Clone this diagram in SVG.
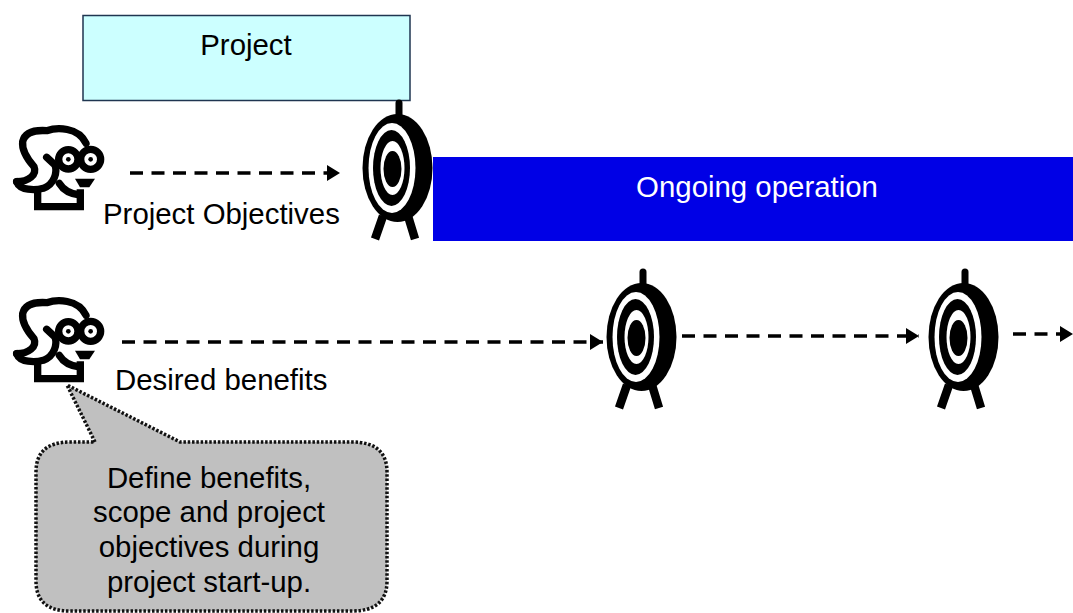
<svg xmlns="http://www.w3.org/2000/svg" width="1073" height="613" viewBox="0 0 1073 613">
<style>
text{font-family:"Liberation Sans",Arial,sans-serif;font-size:29.4px;fill:#000}
.m{text-anchor:middle}
.dash{fill:none;stroke:#000;stroke-width:3.500;stroke-dasharray:13 8.500}
.bl{fill:#000}.wh{fill:#fff}
.ln{fill:none;stroke:#000;stroke-width:22;stroke-linecap:round;stroke-linejoin:round}
</style>
<defs>
<marker id="arrow" markerUnits="userSpaceOnUse" markerWidth="14" markerHeight="20" refX="13" refY="10" orient="auto"><path d="M0,2 L13,10 L0,18 Z" fill="#000"/></marker>
<symbol id="target" overflow="visible" viewBox="0 0 80 145" width="80" height="145">
<path d="M37,2 V18" stroke="#000" stroke-width="7" stroke-linecap="round"/>
<path d="M21,115 L13,138 M46,115 L53,138" stroke="#000" stroke-width="8.500" stroke-linecap="butt"/>
<ellipse class="bl" cx="35.500" cy="67" rx="35" ry="54"/>
<ellipse class="wh" cx="30" cy="67" rx="23.500" ry="45"/>
<ellipse class="bl" cx="29.500" cy="67" rx="18.500" ry="38"/>
<ellipse class="wh" cx="30.500" cy="67" rx="12" ry="27"/>
<ellipse class="bl" cx="30.500" cy="68" rx="9" ry="18"/>
</symbol>
<g id="person-shape">
<path class="ln" d="M50,245 C85,245 112,225 102,200 C80,175 65,150 68,125 C75,95 110,90 140,92 C170,82 235,80 258,130"/>
<path class="ln" d="M50,245 C60,272 105,272 130,265 C165,252 172,215 165,195 L140,172"/>
<circle cx="205" cy="178" r="29" fill="#fff" stroke="#000" stroke-width="22"/>
<circle cx="272" cy="178" r="30" fill="#fff" stroke="#000" stroke-width="22"/>
<circle cx="205" cy="178" r="7" fill="#000"/><circle cx="272" cy="178" r="7" fill="#000"/>
<path class="ln" style="stroke-linecap:butt;stroke-linejoin:miter" d="M113,268 V320 H241 V268"/>
<path class="ln" d="M178,250 C190,270 210,282 240,285"/>
<path d="M225,236 H285 L268,262 H240 Z" fill="#000"/>
</g>
</defs>
<rect width="1073" height="613" fill="#fff"/>
<g id="project"><rect x="83" y="15.500" width="327" height="85" fill="#ccffff" stroke="#1f3550" stroke-width="1.500"/><text class="m" x="246" y="55">Project</text></g>
<g id="operation"><rect x="433" y="157" width="640" height="84" fill="#0000e6"/><text class="m" x="757" y="197" style="fill:#fff">Ongoing operation</text></g>
<g id="connectors">
<path class="dash" marker-end="url(#arrow)" d="M130,173 H340"/>
<path class="dash" marker-end="url(#arrow)" d="M122,342 H603"/>
<path class="dash" marker-end="url(#arrow)" d="M682,336 H919"/>
<path class="dash" marker-end="url(#arrow)" d="M1013,334 H1073"/>
</g>
<g id="objective-person"><use href="#person-shape" transform="scale(.3333) translate(0,300)"/><text x="103" y="224">Project Objectives</text></g>
<g id="benefit-person"><use href="#person-shape" transform="translate(0,172) scale(.3333) translate(0,300)"/><text x="115" y="390">Desired benefits</text></g>
<use id="target-1" href="#target" x="362" y="101"/>
<use id="target-2" href="#target" x="606" y="270"/>
<use id="target-3" href="#target" x="928" y="270"/>
<g id="callout">
<path d="M95,442 L67,385 L180,442 H352 Q387,442 387,472 V581 Q387,611 352,611 H70 Q36,611 36,581 V472 Q36,442 70,442 Z" fill="#c0c0c0" stroke="#111" stroke-width="3.500" stroke-dasharray="2.500 1.800"/>
<text class="m" x="209" y="488">Define benefits,</text>
<text class="m" x="209" y="522">scope and project</text>
<text class="m" x="209" y="557">objectives during</text>
<text class="m" x="209" y="592">project start-up.</text>
</g>
</svg>
